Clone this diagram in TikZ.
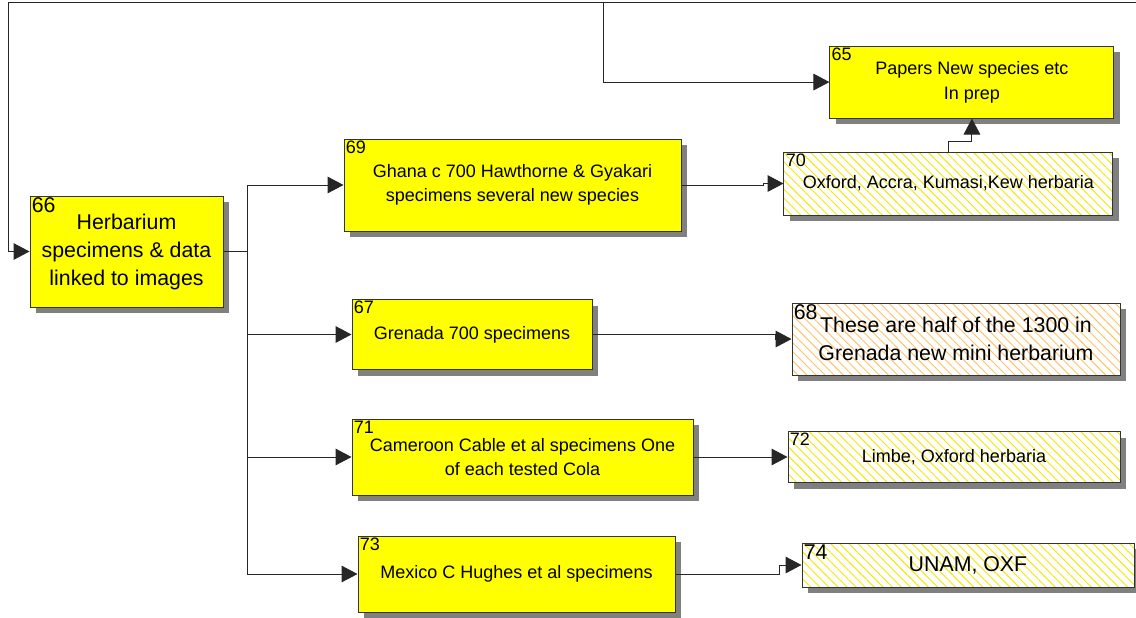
\documentclass[tikz,border=0pt]{standalone}
\usepackage{fontspec}
\setmainfont{Liberation Sans}
\usepackage{tikz}
\usetikzlibrary{arrows.meta, positioning, shadows, patterns.meta}
\definecolor{boxyellow}{HTML}{FFFF00}
\definecolor{hatchyellow}{HTML}{F5E800}
\definecolor{hatchorange}{HTML}{FFC266}
\definecolor{shadowgray}{HTML}{808080}

\begin{document}
\begin{tikzpicture}[x=0.75pt, y=-0.75pt]
        \tikzstyle{box}=[draw=black!80, line width=0.75pt, align=center, inner sep=0pt, font=\fontsize{13.5}{18.5}\selectfont, drop shadow={shadow xshift=4.5pt, shadow yshift=-4.5pt, fill=shadowgray, opacity=1}]
        \tikzstyle{card}=[box, fill=boxyellow]
        \tikzstyle{hatched}=[box, preaction={fill=white}, pattern={Lines[angle=-45, distance=4.8pt, line width=0.7pt]}, pattern color=hatchyellow]
        \tikzstyle{tag}=[anchor=north west, inner sep=1.5pt, font=\fontsize{13.5}{16}\selectfont]
        \tikzstyle{bigtag}=[tag, font=\fontsize{16}{18}\selectfont]
        \tikzstyle{link}=[line width=0.75pt, draw=black!85]
        \tikzstyle{arrow}=[link, -{Triangle[length=12pt, width=12.5pt]}]

        \useasboundingbox (0,0) rectangle (1136,618);

        \node[card, minimum width=144.75pt, minimum height=83.25pt, font=\fontsize{16}{21}\selectfont, label={[bigtag]north west:66}] (n66) at (126.5,251.5) {Herbarium\\specimens \& data\\linked to images};

        \node[card, minimum width=252.75pt, minimum height=69pt, label={[tag]north west:69}] (n69) at (512.5,185) {Ghana c 700 Hawthorne \& Gyakari\\specimens several new species};
        \node[card, minimum width=180pt, minimum height=52.5pt, label={[tag]north west:67}] (n67) at (472,334.5) {Grenada 700 specimens};
        \node[card, minimum width=255.75pt, minimum height=57pt, label={[tag]north west:71}] (n71) at (522.5,457) {Cameroon Cable et al specimens One\\of each tested Cola};
        \node[card, minimum width=237.75pt, minimum height=57pt, label={[tag]north west:73}] (n73) at (516.5,574) {Mexico C Hughes et al specimens};

        \node[hatched, minimum width=246.75pt, minimum height=47.25pt, right=76.5pt of n69, yshift=1.1pt, label={[tag]north west:70}] (n70) {Oxford, Accra, Kumasi,Kew herbaria};
        \node[hatched, pattern color=hatchorange, minimum width=246pt, minimum height=54pt, right=149.25pt of n67, yshift=-3.4pt, font=\fontsize{16}{21}\selectfont, label={[bigtag]north west:68}] (n68) {These are half of the 1300 in\\Grenada new mini herbarium};
        \node[hatched, minimum width=249pt, minimum height=38.25pt, right=70.5pt of n71, label={[tag]north west:72}] (n72) {Limbe, Oxford herbaria};
        \node[hatched, minimum width=249pt, minimum height=33pt, right=94.5pt of n73, yshift=6.75pt, font=\fontsize{16}{21}\selectfont, label={[bigtag]north west:74}] (n74) {UNAM, OXF};
        \node[card, minimum width=213pt, minimum height=54pt, above=24.75pt of n70, xshift=17.6pt, label={[tag]north west:65}] (n65) {Papers New species etc\\In prep};

        \coordinate (tl) at (8,2);
        \coordinate (tr) at (1136,2);
        \coordinate (tm) at (603,2);
        \coordinate[right=18pt of n66.east] (bus);

        \draw[link] (tr) -- (tl);
        \draw[arrow] (tl) |- (n66.west);
        \draw[arrow] (tm) |- (n65.west);
        \draw[link] (n66.east) -- (bus);
        \foreach \t in {n69,n67,n71,n73}
            \draw[arrow] (bus) |- (\t.west);
        \draw[arrow] (n69.east) -- ++(82,0) |- (n70.west);
        \draw[arrow] (n67.east) -- ++(183,0) |- (n68.west);
        \draw[arrow] (n71.east) -- (n72.west);
        \draw[arrow] (n73.east) -- ++(104,0) |- (n74.west);
        \draw[arrow] (n70.north) -- ++(0,-10) -| (n65.south);
\end{tikzpicture}
\end{document}
